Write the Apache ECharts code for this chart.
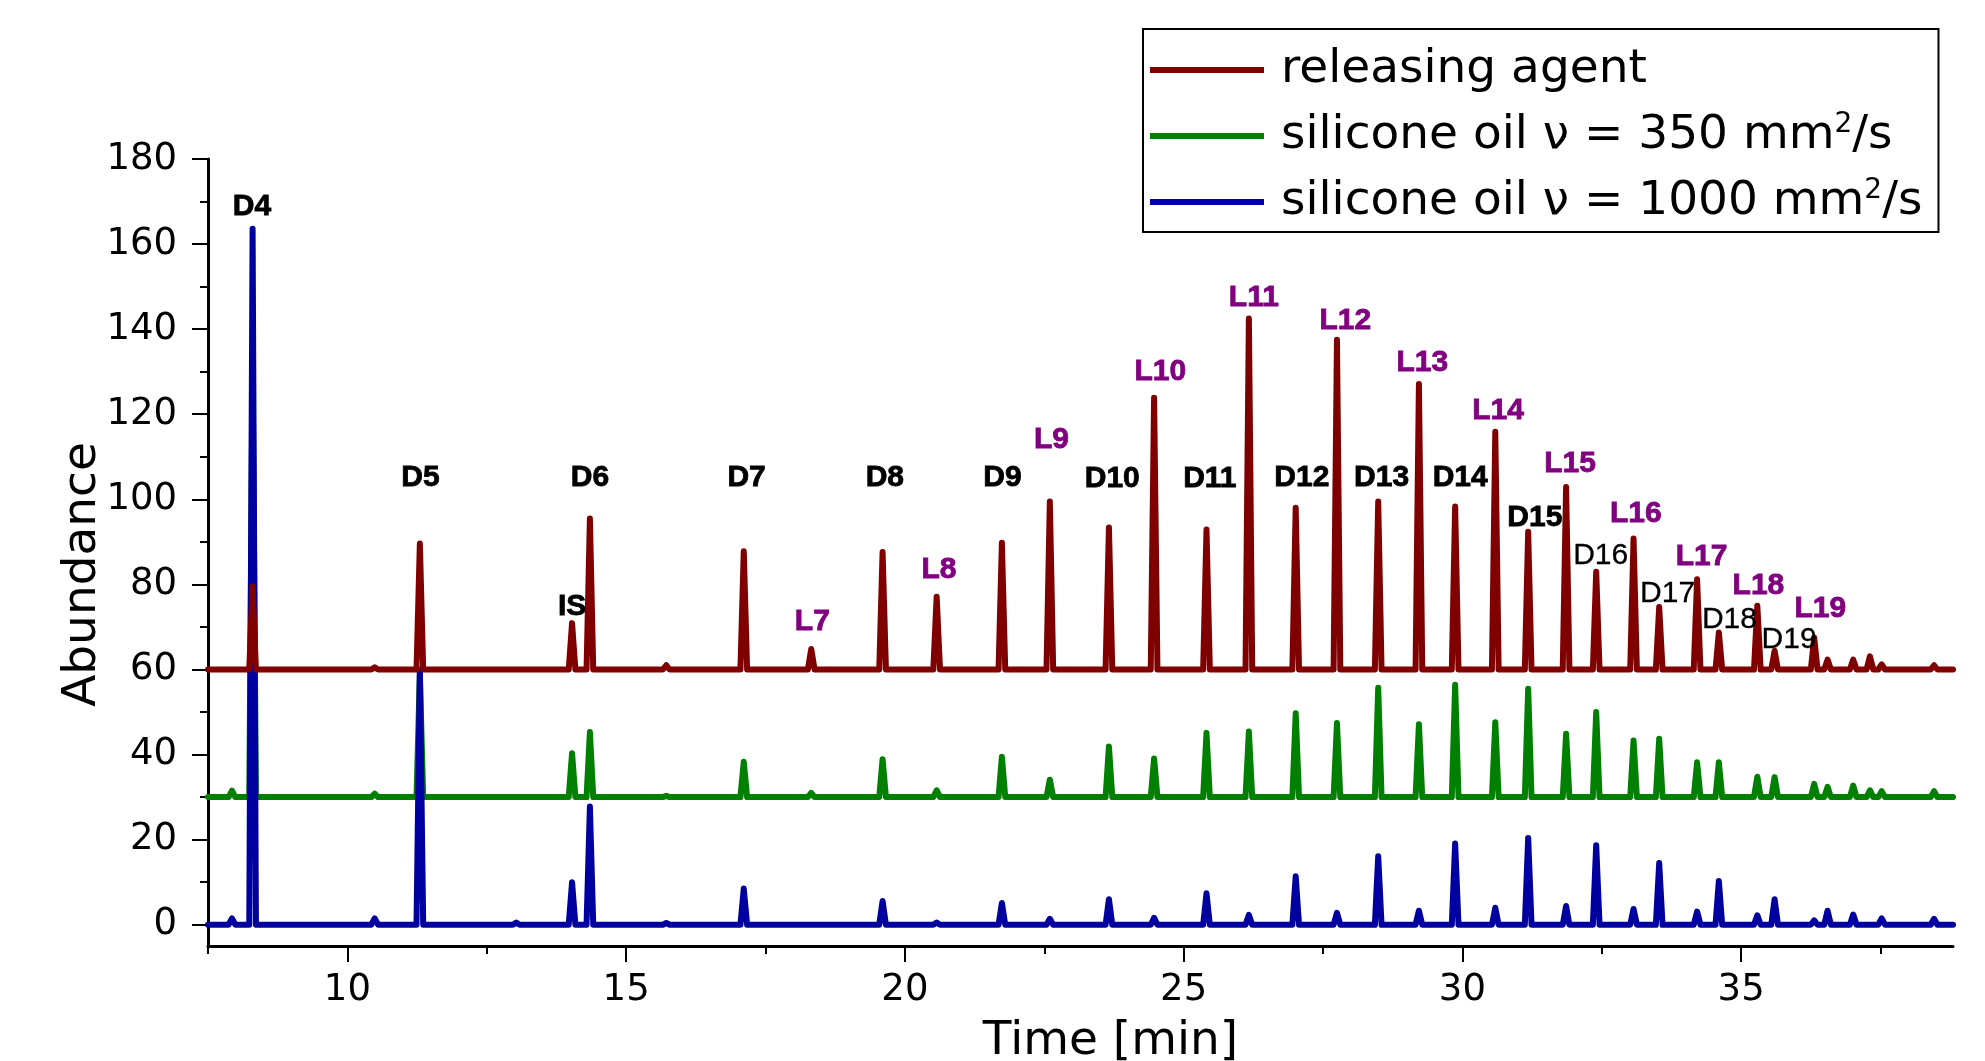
<!DOCTYPE html>
<html>
<head>
<meta charset="utf-8">
<script src="https://cdn.jsdelivr.net/npm/echarts@6/dist/echarts.min.js"></script>
<style>
  html, body { margin: 0; padding: 0; background: #fff; }
  #chart { width: 1985px; height: 1061px; }
</style>
</head>
<body>
<div id="chart"></div>
<script>
// retention times of the peaks [min]
const peakTimes = [7.93, 8.30, 10.49, 11.30, 13.03, 14.03, 14.35, 15.72, 17.11, 18.32,
  19.60, 20.57, 21.74, 22.60, 23.66, 24.47, 25.41, 26.17, 27.01, 27.75,
  28.49, 29.22, 29.87, 30.59, 31.18, 31.86, 32.40, 33.07, 33.53, 34.21,
  34.60, 35.29, 35.60, 36.31, 36.55, 37.01, 37.31, 37.52, 38.46];

// peak heights above each trace's baseline
const redHeights = [0, 19.5, 0.5, 29.6, 0, 10.9, 35.5, 1.0, 27.8, 4.8,
  27.6, 17.1, 29.8, 39.5, 33.4, 63.9, 32.9, 82.5, 38.0, 77.5,
  39.5, 67.1, 38.3, 55.9, 32.4, 42.9, 23.0, 30.8, 14.7, 21.2,
  8.7, 15.0, 4.4, 7.5, 2.3, 2.3, 3.1, 1.2, 1.0];
const greenHeights = [1.5, 101, 0.8, 29, 0, 10.3, 15.3, 0.3, 8.3, 1.0,
  8.9, 1.6, 9.5, 4.1, 11.9, 9.1, 15.1, 15.4, 19.7, 17.4,
  25.7, 17.1, 26.4, 17.6, 25.5, 14.9, 20.0, 13.3, 13.7, 8.2,
  8.2, 4.8, 4.7, 3.1, 2.4, 2.7, 1.6, 1.4, 1.4];
const blueHeights = [1.5, 163.6, 1.5, 60, 0.5, 10.0, 27.8, 0.4, 8.5, 0,
  5.6, 0.5, 5.1, 1.4, 6.0, 1.6, 7.4, 2.3, 11.4, 2.8,
  16.1, 3.3, 19.1, 4.0, 20.4, 4.4, 18.7, 3.7, 14.5, 3.1,
  10.3, 2.2, 6.0, 1.0, 3.3, 2.4, 0, 1.5, 1.4];

// trace offsets
const redBase = 60, greenBase = 30, blueBase = 0;

// peak annotations
const labelNames = ['D4', 'D5', 'IS', 'D6', 'D7', 'L7', 'D8', 'L8', 'D9', 'L9',
  'D10', 'L10', 'D11', 'L11', 'D12', 'L12', 'D13', 'L13', 'D14', 'L14',
  'D15', 'L15', 'D16', 'L16', 'D17', 'L17', 'D18', 'L18', 'D19', 'L19'];
const labelTimes = [8.29, 11.31, 14.03, 14.35, 17.16, 18.34, 19.64, 20.61, 21.75, 22.63,
  23.72, 24.58, 25.47, 26.26, 27.12, 27.90, 28.55, 29.28, 29.96, 30.64,
  31.30, 31.93, 32.48, 33.11, 33.68, 34.29, 34.79, 35.31, 35.86, 36.42];
const labelValues = [168.8, 105.1, 74.8, 105.1, 105.1, 71.2, 105.1, 83.4, 105.1, 114.1,
  104.8, 130.1, 104.8, 147.4, 105.1, 142.0, 105.1, 132.2, 105.1, 120.9,
  95.6, 108.4, 86.7, 96.5, 77.8, 86.4, 71.8, 79.6, 67.1, 74.2];

const xTicks = [10, 15, 20, 25, 30, 35];
const xMinorTicks = [7.5, 12.5, 17.5, 22.5, 27.5, 32.5, 37.5];
const yTicks = [0, 20, 40, 60, 80, 100, 120, 140, 160, 180];
const yMinorTicks = [10, 30, 50, 70, 90, 110, 130, 150, 170];

const xMin = 7.5, xMax = 38.8;
const halfWidth = 0.06;

function trace(heights, base) {
  const pts = [[xMin, base]];
  peakTimes.forEach((t, i) => {
    if (heights[i] > 0) {
      pts.push([t - halfWidth, base], [t, base + heights[i]], [t + halfWidth, base]);
    }
  });
  pts.push([xMax, base]);
  return pts;
}

const chart = echarts.init(document.getElementById('chart'));
const font = 'DejaVu Sans';

function lineSeries(name, color, data) {
  return {
    name: name,
    type: 'line',
    data: data,
    showSymbol: false,
    symbol: 'none',
    color: color,
    lineStyle: { color: color, width: 6, join: 'round', cap: 'round' },
    silent: true
  };
}

const labelData = labelNames.map((n, i) => {
  const c = n.charAt(0) === 'L' ? '#800080' : '#000';
  const regular = ['D16', 'D17', 'D18', 'D19'].indexOf(n) >= 0;
  return {
    name: n,
    value: [labelTimes[i], labelValues[i]],
    label: {
      color: c,
      fontWeight: regular ? 'normal' : 'bold',
      textBorderColor: c,
      textBorderWidth: regular ? 0.3 : 0.8
    }
  };
});

const option = {
  backgroundColor: '#fff',
  animation: false,
  grid: { left: 208, right: 32, top: 159, bottom: 115, outerBoundsMode: 'none' },
  legend: {
    data: ['releasing agent', 'silicone oil ν = 350 mm²/s', 'silicone oil ν = 1000 mm²/s'],
    orient: 'vertical',
    left: 1143,
    top: 29,
    icon: 'rect',
    itemWidth: 114,
    itemHeight: 6,
    itemGap: 16,
    padding: [16, 16, 5, 7],
    borderColor: '#000',
    borderWidth: 2,
    borderRadius: 0,
    selectedMode: false,
    formatter: function (name) { return name.replace('²', '{sup|2}'); },
    textStyle: {
      fontFamily: font,
      fontSize: 47,
      lineHeight: 50,
      color: '#000',
      padding: [0, 0, 0, 12],
      rich: {
        sup: { fontFamily: font, fontSize: 28, lineHeight: 50, verticalAlign: 'top' }
      }
    }
  },
  xAxis: [{
    type: 'value',
    min: xMin,
    max: xMax,
    position: 'bottom',
    name: 'Time [min]',
    nameLocation: 'middle',
    nameGap: 72,
    nameMoveOverlap: false,
    nameTextStyle: { fontFamily: font, fontSize: 47, color: '#000', padding: [0, 0, 0, 60] },
    axisLine: { onZero: false, lineStyle: { color: '#000', width: 3 } },
    axisTick: { customValues: xTicks, length: 16, lineStyle: { color: '#000', width: 2 } },
    axisLabel: { customValues: xTicks, fontFamily: font, fontSize: 37, color: '#000', margin: 26 },
    splitLine: { show: false }
  }, {
    type: 'value',
    min: xMin,
    max: xMax,
    position: 'bottom',
    axisLine: { show: false, onZero: false },
    axisTick: { customValues: xMinorTicks, length: 8, lineStyle: { color: '#000', width: 2 } },
    axisLabel: { show: false },
    splitLine: { show: false }
  }],
  yAxis: [{
    type: 'value',
    min: -5,
    max: 180,
    position: 'left',
    name: 'Abundance',
    nameLocation: 'middle',
    nameRotate: 90,
    nameGap: 102,
    nameMoveOverlap: false,
    nameTextStyle: { fontFamily: font, fontSize: 47, color: '#000', padding: [0, 44, 0, 0] },
    axisLine: { onZero: false, lineStyle: { color: '#000', width: 3 } },
    axisTick: { customValues: yTicks, length: 16, lineStyle: { color: '#000', width: 2 } },
    axisLabel: { customValues: yTicks, fontFamily: font, fontSize: 37, color: '#000', margin: 31 },
    splitLine: { show: false }
  }, {
    type: 'value',
    min: -5,
    max: 180,
    position: 'left',
    axisLine: { show: false, onZero: false },
    axisTick: { customValues: yMinorTicks, length: 8, lineStyle: { color: '#000', width: 2 } },
    axisLabel: { show: false },
    splitLine: { show: false }
  }],
  series: [
    lineSeries('silicone oil ν = 350 mm²/s', '#008000', trace(greenHeights, greenBase)),
    lineSeries('silicone oil ν = 1000 mm²/s', '#0000a0', trace(blueHeights, blueBase)),
    lineSeries('releasing agent', '#800000', trace(redHeights, redBase)),
    {
      name: 'labels',
      type: 'scatter',
      data: labelData,
      symbolSize: 2,
      itemStyle: { color: 'rgba(0,0,0,0)' },
      silent: true,
      z: 5,
      label: {
        show: true,
        position: 'inside',
        formatter: '{b}',
        fontFamily: 'Liberation Sans',
        fontSize: 30,
        opacity: 1
      }
    }
  ]
};

chart.setOption(option);
window.addEventListener('resize', function () {
  chart.resize();
});
</script>
</body>
</html>
